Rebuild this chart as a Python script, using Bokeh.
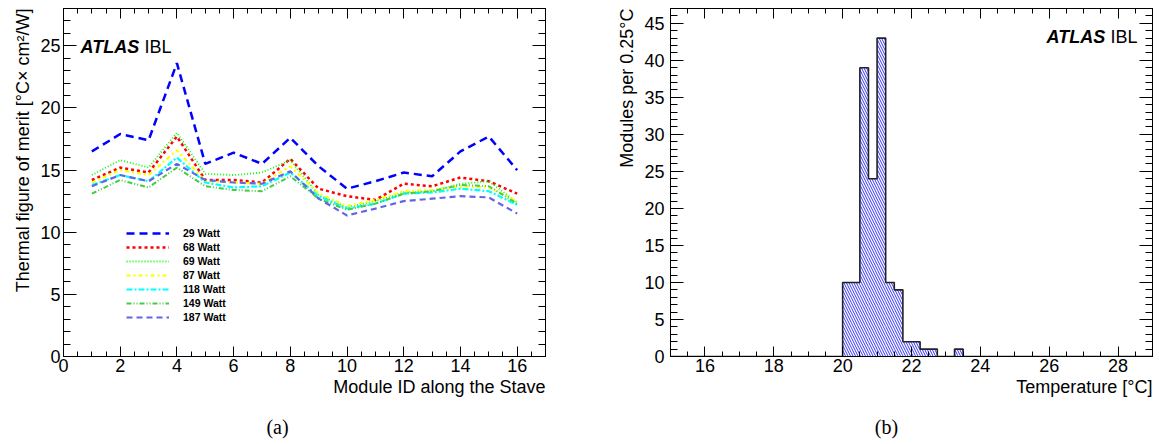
import numpy as np
from bokeh.plotting import figure
from bokeh.models import (Range1d, LinearAxis, SingleIntervalTicker, Label, Title,
                          Legend, LegendItem, CustomJSTickFormatter)
from bokeh.layouts import row, column
from bokeh.embed import file_html
from bokeh.resources import INLINE

# ---------------- data: (a) thermal figure of merit ----------------
module_id = list(range(1, 17))
fom_29W = [16.5, 17.9, 17.4, 23.6, 15.5, 16.4, 15.5, 17.6, 15.3, 13.5, 14.1, 14.8, 14.5, 16.5, 17.7, 15.0]
fom_68W = [14.2, 15.2, 14.8, 17.7, 14.2, 14.2, 14.0, 15.9, 13.5, 12.9, 12.6, 13.9, 13.7, 14.4, 14.1, 13.1]
fom_69W = [14.6, 15.8, 15.2, 18.0, 14.7, 14.6, 14.8, 15.8, 13.0, 12.0, 12.5, 13.2, 13.3, 13.9, 14.1, 12.4]
fom_87W = [14.0, 15.0, 14.6, 16.6, 14.1, 14.0, 13.9, 15.3, 13.1, 12.1, 12.6, 13.3, 13.4, 13.7, 13.6, 12.5]
fom_118W = [13.8, 14.6, 14.1, 16.0, 14.0, 13.6, 13.7, 14.8, 12.9, 11.9, 12.3, 13.1, 13.2, 13.5, 13.3, 12.2]
fom_149W = [13.1, 14.2, 13.6, 15.2, 13.7, 13.4, 13.3, 14.5, 12.7, 11.8, 12.3, 13.1, 13.3, 13.8, 13.7, 12.3]
fom_187W = [13.7, 14.6, 14.1, 15.5, 14.2, 14.0, 13.9, 14.9, 12.7, 11.35, 11.9, 12.5, 12.7, 12.9, 12.8, 11.5]
series_labels = ["29 Watt", "68 Watt", "69 Watt", "87 Watt", "118 Watt", "149 Watt", "187 Watt"]

# ---------------- data: (b) temperature histogram ----------------
bin_width = 0.25
hist_left = [20.0, 20.25, 20.5, 20.75, 21.0, 21.25, 21.5, 21.75, 22.0, 22.25, 22.5, 23.25]
hist_counts = [10, 10, 39, 24, 43, 10, 9, 2, 2, 1, 1, 1]

captions = ["(a)", "(b)"]

FONT = "Liberation Sans"


def frame_axes(p, xint, xminor, yint, yminor, ystand):
    xt = SingleIntervalTicker(interval=xint, num_minor_ticks=xminor)
    yt = SingleIntervalTicker(interval=yint, num_minor_ticks=yminor)
    p.xgrid.visible = False
    p.ygrid.visible = False
    p.outline_line_color = "black"
    for ax, t, side in [(p.xaxis[0], xt, "x"), (p.yaxis[0], yt, "y")]:
        ax.ticker = t
        ax.major_label_text_font = FONT
        ax.major_label_text_font_size = "18px"
        ax.major_label_text_color = "black"
        ax.axis_line_color = "black"
        ax.major_tick_line_color = "black"
        ax.minor_tick_line_color = "black"
        ax.major_tick_out = 0
        ax.minor_tick_out = 0
        if side == "x":
            ax.major_tick_in = 10
            ax.minor_tick_in = 5
            ax.major_label_standoff = 2
        else:
            ax.major_tick_in = 13
            ax.minor_tick_in = 7
            ax.major_label_standoff = ystand
    blank = CustomJSTickFormatter(code="return ''")
    top = LinearAxis(ticker=xt, formatter=blank, major_label_text_font_size="1px",
                     major_label_standoff=0,
                     major_tick_in=10, minor_tick_in=5, major_tick_out=0, minor_tick_out=0,
                     axis_line_color="black")
    right = LinearAxis(ticker=yt, formatter=blank, major_label_text_font_size="1px",
                       major_label_standoff=0,
                       major_tick_in=13, minor_tick_in=7, major_tick_out=0, minor_tick_out=0,
                       axis_line_color="black")
    p.add_layout(top, "above")
    p.add_layout(right, "right")


def txt(p, x, y, text, size="18px", style="normal", align="left", baseline="alphabetic",
        font=FONT):
    p.add_layout(Label(x=x, y=y, x_units="screen", y_units="screen", text=text,
                       text_font=font, text_font_size=size, text_font_style=style,
                       text_align=align, text_baseline=baseline, text_color="black"))


def side_title(p, text, side, align="right", offset=0, standoff=0, size="18px", font=FONT):
    p.add_layout(Title(text=text, align=align, offset=offset, standoff=standoff,
                       text_font=font, text_font_size=size, text_font_style="normal",
                       text_color="black"), side)


# ---------------- figure (a) ----------------
p1 = figure(width=608, height=416, output_backend="svg", toolbar_location=None,
            x_range=Range1d(0, 17), y_range=Range1d(0, 28),
            min_border_left=63, min_border_right=63, min_border_top=8, min_border_bottom=60,
            background_fill_color="white", border_fill_color="white")
frame_axes(p1, 2, 4, 5, 5, 3)

styles = [
    (fom_29W, "#0000ff", 2.5, "8 5"),
    (fom_68W, "#ff0000", 2.5, "3 3"),
    (fom_69W, "#00ff00", 1.8, "1 2"),
    (fom_87W, "#ffff00", 2.2, "4 3 2 3"),
    (fom_118W, "#00ffff", 2.2, "6 2 2 2"),
    (fom_149W, "#44cc44", 2.0, "5 2 1 2 1 2"),
    (fom_187W, "#6464e6", 2.2, "6 4"),
]
items = []
for (vals, col, lw, dash), lab in zip(styles, series_labels):
    r = p1.line(module_id, vals, line_color=col, line_width=lw, line_dash=dash)
    items.append(LegendItem(label=lab, renderers=[r]))

legend = Legend(items=items, location=(63, 33), glyph_width=43, glyph_height=12,
                label_height=12, spacing=2, padding=0, margin=0, label_standoff=14,
                label_text_font=FONT, label_text_font_size="10.5px",
                label_text_font_style="bold", label_text_color="black",
                border_line_color=None, background_fill_alpha=0)
p1.add_layout(legend, "center")

side_title(p1, "Thermal figure of merit [°C× cm²/W]", "left", standoff=10)
side_title(p1, "Module ID along the Stave", "below", standoff=0)
txt(p1, 17, 310, "ATLAS", style="bold italic")
txt(p1, 81, 310, "IBL")

# ---------------- figure (b) ----------------
p2 = figure(width=546, height=416, output_backend="svg", toolbar_location=None,
            x_range=Range1d(15, 29), y_range=Range1d(0, 47),
            min_border_left=62, min_border_right=2, min_border_top=8, min_border_bottom=60,
            background_fill_color="white", border_fill_color="white")
frame_axes(p2, 2, 4, 5, 5, 6)

hist_right = [l + bin_width for l in hist_left]
p2.quad(left=hist_left, right=hist_right, bottom=0, top=hist_counts,
        fill_color=None, line_color=None, hatch_pattern="\\", hatch_color="#0000ff",
        hatch_scale=5, hatch_weight=0.8)

edges = np.round(np.arange(15.0, 29.0 + 1e-9, bin_width), 3)
full = np.zeros(len(edges) - 1)
for l, c in zip(hist_left, hist_counts):
    full[int(round((l - 15.0) / bin_width))] = c
p2.step(edges, np.append(full, full[-1]), mode="after", line_color="#222222", line_width=1.6)

side_title(p2, "Modules per 0.25°C", "left", standoff=10)
side_title(p2, "Temperature [°C]", "below", standoff=0)
txt(p2, 376, 320, "ATLAS", style="bold italic")
txt(p2, 440, 320, "IBL")

# ---------------- caption strip ----------------
p3 = figure(width=1154, height=28, output_backend="svg", toolbar_location=None,
            x_range=Range1d(0, 1), y_range=Range1d(0, 1),
            x_axis_location=None, y_axis_location=None, min_border=0,
            background_fill_color="white", border_fill_color="white")
p3.outline_line_color = None
p3.xgrid.visible = False
p3.ygrid.visible = False
txt(p3, 277, 18, captions[0], size="20px", align="center", baseline="middle", font="Liberation Serif")
txt(p3, 886, 18, captions[1], size="20px", align="center", baseline="middle", font="Liberation Serif")

layout = column(row(p1, p2), p3)
open("out.html", "w").write(file_html(layout, INLINE))
